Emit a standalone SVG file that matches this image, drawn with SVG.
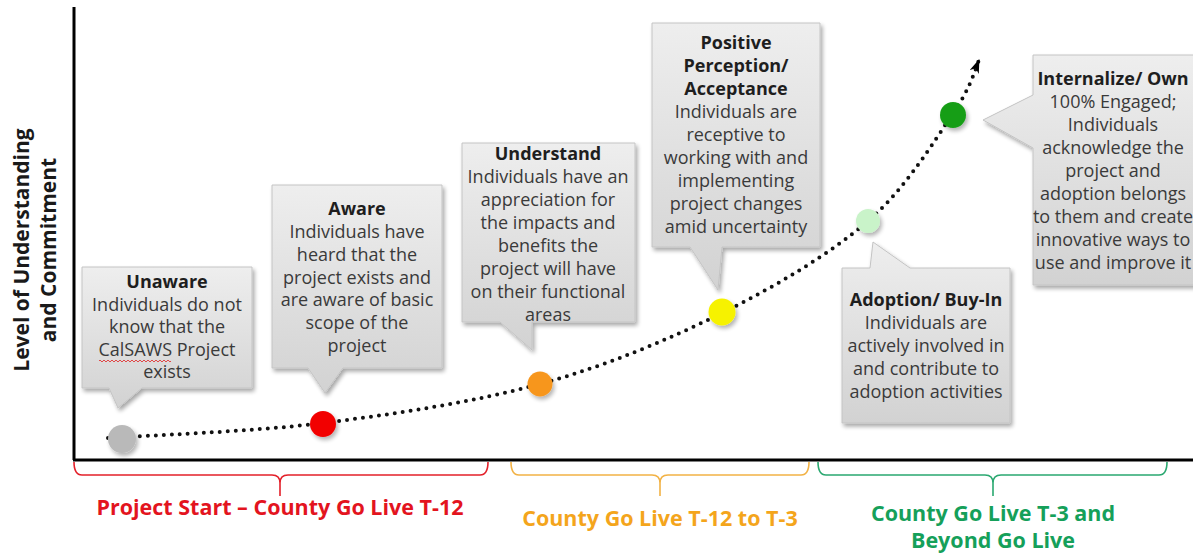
<svg xmlns="http://www.w3.org/2000/svg" width="1193" height="554" viewBox="0 0 1193 554">
<style>
.box{fill:url(#boxg);stroke:#c4c4c4;stroke-width:1;filter:url(#sh)}
.t{font-family:"Open Sans","Liberation Sans",sans-serif;font-size:18px;fill:#3a3a3a;text-anchor:middle}
.h{font-weight:bold;fill:#1e1e1e}
.lab{font-family:"Open Sans","Liberation Sans",sans-serif;font-size:21.5px;font-weight:bold;text-anchor:middle}
.ax{font-family:"Open Sans","Liberation Sans",sans-serif;font-size:21px;font-weight:bold;fill:#1a1a1a;text-anchor:middle}
.dot{filter:url(#csh)}
.br{fill:none;stroke-width:1.6}
</style>
<defs>
<linearGradient id="boxg" x1="0" y1="0" x2="0" y2="1">
<stop offset="0" stop-color="#eeeeee"/>
<stop offset="1" stop-color="#d2d2d2"/>
</linearGradient>
<filter id="sh" x="-10%" y="-10%" width="130%" height="130%">
<feGaussianBlur in="SourceAlpha" stdDeviation="2"/>
<feOffset dx="2" dy="3" result="o"/>
<feComponentTransfer><feFuncA type="linear" slope="0.35"/></feComponentTransfer>
<feMerge><feMergeNode/><feMergeNode in="SourceGraphic"/></feMerge>
</filter>
<filter id="csh" x="-50%" y="-50%" width="200%" height="200%">
<feGaussianBlur in="SourceAlpha" stdDeviation="2"/>
<feOffset dx="2" dy="3"/>
<feComponentTransfer><feFuncA type="linear" slope="0.3"/></feComponentTransfer>
<feMerge><feMergeNode/><feMergeNode in="SourceGraphic"/></feMerge>
</filter>
<marker id="arr" viewBox="0 0 14 10" refX="13" refY="5" markerWidth="14" markerHeight="10" markerUnits="userSpaceOnUse" orient="auto">
<path d="M0,0 L14,5 L0,10 L4,5 Z" fill="#000"/>
</marker>
</defs>
<rect width="1193" height="554" fill="#fff"/>

<g id="axes">
<line x1="74" y1="7" x2="74" y2="460" stroke="#000" stroke-width="3"/>
<line x1="73" y1="460" x2="1193" y2="460" stroke="#000" stroke-width="3"/>
<text class="ax" transform="translate(29,250) rotate(-90)">Level of Understanding</text>
<text class="ax" transform="translate(56,250) rotate(-90)">and Commitment</text>
</g>

<g id="connectors">
<path d="M108,438 C143.8,435.5 251,432 323,423 C395,414 473.5,402.3 540,384 C606.5,365.7 667.3,340.2 722,313 C776.7,285.8 829.7,254 868,221 C906.3,188 933.5,141.8 952,115 C970.5,88.2 975,70 979,60" fill="none" stroke="#111" stroke-width="4" stroke-linecap="round" stroke-dasharray="0 8" marker-end="url(#arr)"/>
</g>

<g id="unaware">
<path class="box" d="M82,267 H252 V388 H142 L118,408 L109,388 H82 Z"/>
<circle class="dot" cx="122" cy="439" r="14" fill="#b9b9b9"/>
<text class="t h" x="167" y="288">Unaware</text>
<text class="t" x="167" y="310.5">Individuals do not</text>
<text class="t" x="167" y="333">know that the</text>
<text class="t" x="167" y="355.5">CalSAWS Project</text>
<text class="t" x="167" y="378">exists</text>
<path d="M99,361 q1,-2 2,0 t2,0 t2,0 t2,0 t2,0 t2,0 t2,0 t2,0 t2,0 t2,0 t2,0 t2,0 t2,0 t2,0 t2,0 t2,0 t2,0 t2,0 t2,0 t2,0 t2,0 t2,0 t2,0 t2,0 t2,0 t2,0 t2,0 t2,0 t2,0 t2,0 t2,0 t2,0 t2,0 t2,0 t2,0 t2,0" fill="none" stroke="#e04848" stroke-width="1"/>
</g>

<g id="aware">
<path class="box" d="M272,185 H442 V368 H343 L325,393 L308,368 H272 Z"/>
<circle class="dot" cx="323" cy="424" r="13" fill="#f20000"/>
<text class="t h" x="357" y="215">Aware</text>
<text class="t" x="357" y="238">Individuals have</text>
<text class="t" x="357" y="261">heard that the</text>
<text class="t" x="357" y="283.5">project exists and</text>
<text class="t" x="357" y="306">are aware of basic</text>
<text class="t" x="357" y="329">scope of the</text>
<text class="t" x="357" y="352">project</text>
</g>

<g id="understand">
<path class="box" d="M462,143 H635 V322 H532 L532,350 L500,322 H462 Z"/>
<circle class="dot" cx="540" cy="384" r="12.5" fill="#f7961c"/>
<text class="t h" x="548" y="160">Understand</text>
<text class="t" x="548" y="183">Individuals have an</text>
<text class="t" x="548" y="206">appreciation for</text>
<text class="t" x="548" y="229">the impacts and</text>
<text class="t" x="548" y="252">benefits the</text>
<text class="t" x="548" y="275">project will have</text>
<text class="t" x="548" y="298">on their functional</text>
<text class="t" x="548" y="321">areas</text>
</g>

<g id="acceptance">
<path class="box" d="M652,23 H820 V247 H722 L718,290 L690,247 H652 Z"/>
<circle class="dot" cx="722" cy="312" r="13.5" fill="#f6f200"/>
<text class="t h" x="736" y="49">Positive</text>
<text class="t h" x="736" y="72">Perception/</text>
<text class="t h" x="736" y="95">Acceptance</text>
<text class="t" x="736" y="118">Individuals are</text>
<text class="t" x="736" y="141">receptive to</text>
<text class="t" x="736" y="164">working with and</text>
<text class="t" x="736" y="187">implementing</text>
<text class="t" x="736" y="210">project changes</text>
<text class="t" x="736" y="233">amid uncertainty</text>
</g>

<g id="adoption">
<path class="box" d="M842,268 H870 L873,242 L910,268 H1010 V423 H842 Z"/>
<circle class="dot" cx="868" cy="221" r="12" fill="#c9f3c9"/>
<text class="t h" x="926" y="306">Adoption/ Buy-In</text>
<text class="t" x="926" y="329">Individuals are</text>
<text class="t" x="926" y="352">actively involved in</text>
<text class="t" x="926" y="375">and contribute to</text>
<text class="t" x="926" y="398">adoption activities</text>
</g>

<g id="internalize">
<path class="box" d="M1033,55 H1205 V285 H1033 V148 L983,120 L1033,95 Z"/>
<circle class="dot" cx="953" cy="115" r="13" fill="#169e16"/>
<text class="t h" x="1113" y="85">Internalize/ Own</text>
<text class="t" x="1113" y="108">100% Engaged;</text>
<text class="t" x="1113" y="131">Individuals</text>
<text class="t" x="1113" y="154">acknowledge the</text>
<text class="t" x="1113" y="177">project and</text>
<text class="t" x="1113" y="200">adoption belongs</text>
<text class="t" x="1113" y="223">to them and create</text>
<text class="t" x="1113" y="246">innovative ways to</text>
<text class="t" x="1113" y="269">use and improve it</text>
</g>

<g id="phase1">
<path class="br" stroke="#e3202a" d="M74,462 Q74,475 82,475 H272 Q280,475 280,483 Q280,475 288,475 H480 Q488,475 488,462 M280,483 V496"/>
<text class="lab" fill="#e3141e" x="280" y="515">Project Start – County Go Live T-12</text>
</g>

<g id="phase2">
<path class="br" stroke="#f2b245" d="M511,462 Q511,475 519,475 H652 Q660,475 660,483 Q660,475 668,475 H801 Q809,475 809,462 M660,483 V496"/>
<text class="lab" fill="#f4a51c" x="660" y="526">County Go Live T-12 to T-3</text>
</g>

<g id="phase3">
<path class="br" stroke="#2aa870" d="M818,462 Q818,475 826,475 H985 Q993,475 993,483 Q993,475 1001,475 H1159 Q1167,475 1167,462 M993,483 V496"/>
<text class="lab" fill="#15a05a" x="993" y="521">County Go Live T-3 and</text>
<text class="lab" fill="#15a05a" x="993" y="548">Beyond Go Live</text>
</g>
</svg>
